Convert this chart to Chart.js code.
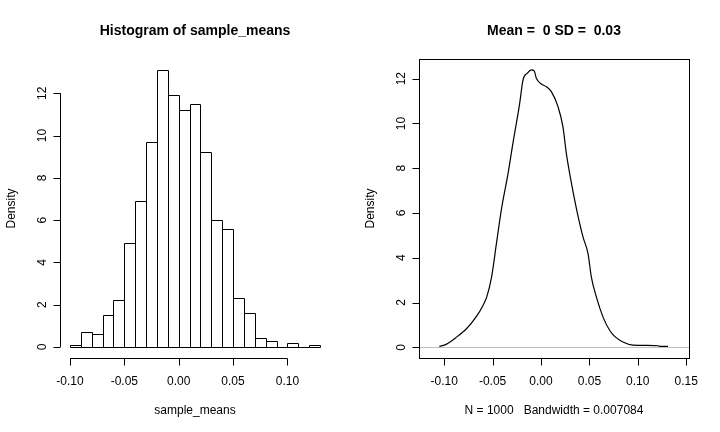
<!DOCTYPE html>
<html>
<head>
<meta charset="utf-8">
<title>Histogram and density of sample_means</title>
<script src="https://cdn.jsdelivr.net/npm/chart.js@4"></script>
<style>
  html, body { margin: 0; padding: 0; background: #ffffff; }
  #wrap { position: relative; width: 720px; height: 432px; }
  .panel { position: absolute; top: 0; width: 360px; height: 432px; }
  #histPanel { left: 0; }
  #densPanel { left: 360px; }
</style>
</head>
<body>
<div id="wrap">
  <div class="panel" id="histPanel"><canvas id="histChart" width="360" height="432"></canvas></div>
  <div class="panel" id="densPanel"><canvas id="densChart" width="360" height="432"></canvas></div>
</div>
<script>
// ======================================
// Data
// ======================================

const histTitle = "Histogram of sample_means";
const histXLabel = "sample_means";
const histBinMids = [
  -0.095, -0.085, -0.075, -0.065, -0.055, -0.045, -0.035, -0.025, -0.015, -0.005,
  0.005, 0.015, 0.025, 0.035, 0.045, 0.055, 0.065, 0.075, 0.085, 0.095,
  0.105, 0.115, 0.125,
];
const histDensity = [
  0.1, 0.7, 0.6, 1.5, 2.2, 4.9, 6.9, 9.7, 13.1, 11.9,
  11.2, 11.5, 9.2, 6.0, 5.6, 2.3, 1.6, 0.4, 0.3, 0.0,
  0.2, 0.0, 0.1,
];
const histXTicks = [-0.1, -0.05, 0, 0.05, 0.1];
const histYTicks = [0, 2, 4, 6, 8, 10, 12];

const densTitle = "Mean =  0 SD =  0.03";
const densXLabel = "N = 1000   Bandwidth = 0.007084";
const densX = [
  -0.105, -0.098, -0.088, -0.077, -0.067, -0.06, -0.056, -0.051, -0.046, -0.041,
  -0.034, -0.029, -0.022, -0.0186, -0.014, -0.01, -0.007, -0.0048, 0.0004, 0.0056,
  0.0107, 0.0176, 0.0227, 0.0262, 0.0296, 0.0366, 0.0434, 0.0486, 0.052, 0.0572,
  0.064, 0.0709, 0.0761, 0.0847, 0.095, 0.1088, 0.1209, 0.1226, 0.1312,
];
const densY = [
  0.04, 0.13, 0.43, 0.83, 1.36, 1.86, 2.25, 3.15, 4.64, 6.13,
  7.77, 9.11, 10.9, 11.94, 12.25, 12.39, 12.35, 12.02, 11.76, 11.64,
  11.42, 10.75, 9.85, 8.66, 7.77, 6.2, 4.93, 4.19, 3.15, 2.25,
  1.36, 0.76, 0.49, 0.24, 0.1, 0.09, 0.07, 0.04, 0.04,
];
const densXTicks = [-0.1, -0.05, 0, 0.05, 0.1, 0.15];
const densYTicks = [0, 2, 4, 6, 8, 10, 12];

// ======================================
// Shared drawing helpers (R base graphics look)
// ======================================

const FONT = "'Liberation Sans', Arial, sans-serif";
const TICK_LEN = 7;
const PADDING = { left: 60, right: 30, top: 59, bottom: 74 };

function crisp(v) {
  return Math.round(v) + 0.5;
}

function drawTitle(ctx, area, text) {
  ctx.font = `bold 14px ${FONT}`;
  ctx.fillStyle = "#000";
  ctx.textAlign = "center";
  ctx.textBaseline = "alphabetic";
  ctx.fillText(text, (area.left + area.right) / 2, 35);
}

function drawXAxis(ctx, scale, axisY, ticks, lineFrom, lineTo, title, titleX) {
  const y = crisp(axisY);
  ctx.strokeStyle = "#000";
  ctx.lineWidth = 1;
  ctx.beginPath();
  ctx.moveTo(scale.getPixelForValue(lineFrom), y);
  ctx.lineTo(scale.getPixelForValue(lineTo), y);
  ticks.forEach((t) => {
    const x = crisp(scale.getPixelForValue(t));
    ctx.moveTo(x, y);
    ctx.lineTo(x, y + TICK_LEN);
  });
  ctx.stroke();

  ctx.font = `12px ${FONT}`;
  ctx.fillStyle = "#000";
  ctx.textAlign = "center";
  ctx.textBaseline = "alphabetic";
  ticks.forEach((t) => {
    ctx.fillText(t.toFixed(2), scale.getPixelForValue(t), 385);
  });
  ctx.fillText(title, titleX, 414);
}

function drawYAxis(ctx, scale, axisX, ticks, midY) {
  const x = crisp(axisX);
  ctx.strokeStyle = "#000";
  ctx.lineWidth = 1;
  ctx.beginPath();
  ctx.moveTo(x, scale.getPixelForValue(ticks[0]));
  ctx.lineTo(x, scale.getPixelForValue(ticks[ticks.length - 1]));
  ticks.forEach((t) => {
    const y = crisp(scale.getPixelForValue(t));
    ctx.moveTo(x, y);
    ctx.lineTo(x - TICK_LEN, y);
  });
  ctx.stroke();

  ctx.font = `12px ${FONT}`;
  ctx.fillStyle = "#000";
  ctx.textAlign = "center";
  ctx.textBaseline = "alphabetic";
  ticks.forEach((t) => {
    ctx.save();
    ctx.translate(axisX - 14.5, scale.getPixelForValue(t));
    ctx.rotate(-Math.PI / 2);
    ctx.fillText(String(t), 0, 0);
    ctx.restore();
  });

  ctx.save();
  ctx.translate(axisX - 45, midY);
  ctx.rotate(-Math.PI / 2);
  ctx.fillText("Density", 0, 0);
  ctx.restore();
}

// ======================================
// Histogram
// ======================================

const histAxesPlugin = {
  id: "histAxes",
  afterDatasetsDraw(chart) {
    // outline each bar on whole pixels so the edges stay sharp
    const { ctx } = chart;
    const bars = chart.getDatasetMeta(0).data;
    ctx.save();
    ctx.strokeStyle = "#000";
    ctx.lineWidth = 1;
    ctx.beginPath();
    bars.forEach((bar) => {
      const { x, y, base, width } = bar.getProps(["x", "y", "base", "width"], true);
      const left = crisp(x - width / 2);
      const right = crisp(x + width / 2);
      const top = crisp(y);
      const bottom = crisp(base);
      ctx.moveTo(left, bottom);
      ctx.lineTo(left, top);
      ctx.lineTo(right, top);
      ctx.lineTo(right, bottom);
      ctx.closePath();
    });
    ctx.stroke();
    ctx.restore();
  },
  afterDraw(chart) {
    const { ctx, chartArea, scales } = chart;
    ctx.save();
    drawTitle(ctx, chartArea, histTitle);
    drawXAxis(ctx, scales.x, chartArea.bottom, histXTicks, histXTicks[0], histXTicks[histXTicks.length - 1],
      histXLabel, (chartArea.left + chartArea.right) / 2);
    drawYAxis(ctx, scales.y, chartArea.left, histYTicks, (chartArea.top + chartArea.bottom) / 2);
    ctx.restore();
  },
};

new Chart(document.getElementById("histChart"), {
  type: "bar",
  data: {
    datasets: [
      {
        data: histBinMids.map((m, i) => ({ x: m, y: histDensity[i] })),
        backgroundColor: "#ffffff",
        borderWidth: 0,
        barPercentage: 1,
        categoryPercentage: 1,
      },
    ],
  },
  options: {
    responsive: false,
    animation: false,
    devicePixelRatio: 1,
    layout: { padding: PADDING },
    plugins: { legend: { display: false }, tooltip: { enabled: false } },
    scales: {
      x: {
        type: "linear",
        min: -0.1092,
        max: 0.1392,
        offset: false,
        grid: { offset: false },
        display: false,
      },
      y: { type: "linear", min: -0.524, max: 13.624, display: false },
    },
  },
  plugins: [histAxesPlugin],
});

// ======================================
// Density
// ======================================

const densAxesPlugin = {
  id: "densAxes",
  beforeDatasetsDraw(chart) {
    const { ctx, chartArea, scales } = chart;
    const y0 = crisp(scales.y.getPixelForValue(0));
    ctx.save();
    ctx.strokeStyle = "#bebebe";
    ctx.lineWidth = 1;
    ctx.beginPath();
    ctx.moveTo(chartArea.left, y0);
    ctx.lineTo(chartArea.right, y0);
    ctx.stroke();
    ctx.restore();
  },
  afterDraw(chart) {
    const { ctx, chartArea, scales } = chart;
    ctx.save();
    ctx.strokeStyle = "#000";
    ctx.lineWidth = 1;
    ctx.strokeRect(crisp(chartArea.left), crisp(chartArea.top),
      Math.round(chartArea.right - chartArea.left), Math.round(chartArea.bottom - chartArea.top));

    drawTitle(ctx, chartArea, densTitle);
    drawXAxis(ctx, scales.x, chartArea.bottom, densXTicks, densXTicks[0], densXTicks[densXTicks.length - 1],
      densXLabel, (chartArea.left + chartArea.right) / 2);
    drawYAxis(ctx, scales.y, chartArea.left, densYTicks, (chartArea.top + chartArea.bottom) / 2);
    ctx.restore();
  },
};

new Chart(document.getElementById("densChart"), {
  type: "line",
  data: {
    datasets: [
      {
        data: densX.map((v, i) => ({ x: v, y: densY[i] })),
        borderColor: "#000000",
        borderWidth: 1.2,
        pointRadius: 0,
        fill: false,
        cubicInterpolationMode: "monotone",
      },
    ],
  },
  options: {
    responsive: false,
    animation: false,
    devicePixelRatio: 1,
    layout: { padding: { left: 59, right: 31, top: 59, bottom: 74 } },
    plugins: { legend: { display: false }, tooltip: { enabled: false } },
    scales: {
      x: { type: "linear", min: -0.126, max: 0.1529, display: false },
      y: { type: "linear", min: -0.478, max: 12.88, display: false },
    },
  },
  plugins: [densAxesPlugin],
});
</script>
</body>
</html>
